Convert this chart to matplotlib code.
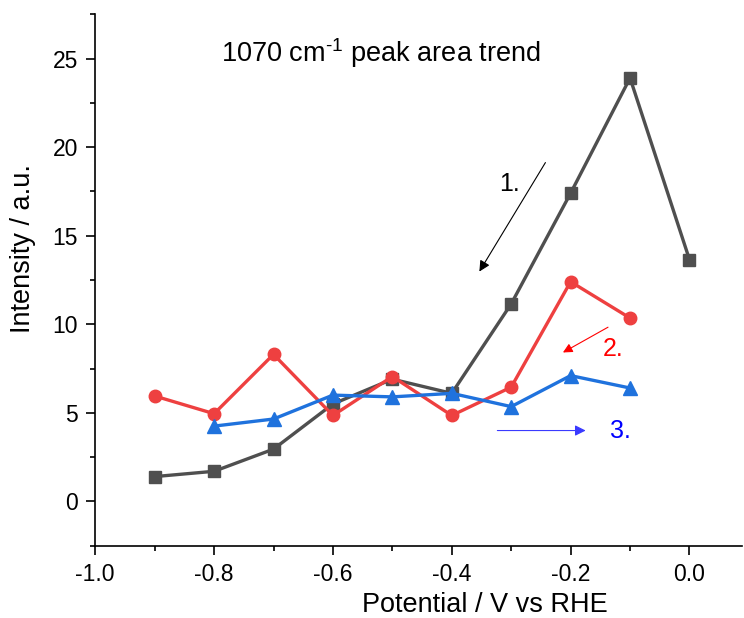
import numpy as np
import matplotlib
matplotlib.use('Agg')
from matplotlib import pyplot as plt
from matplotlib.ticker import MultipleLocator, FormatStrFormatter

plt.rcParams['font.family'] = ['Liberation Sans', 'DejaVu Sans']
plt.rcParams['mathtext.fontset'] = 'custom'
plt.rcParams['mathtext.rm'] = 'Liberation Sans'

# potential / V vs RHE
pot_1 = [-0.9, -0.8, -0.7, -0.6, -0.5, -0.4, -0.3, -0.2, -0.1, 0.0]
int_1 = [1.4, 1.7, 2.95, 5.5, 6.9, 6.1, 11.15, 17.4, 23.9, 13.65]

pot_2 = [-0.9, -0.8, -0.7, -0.6, -0.5, -0.4, -0.3, -0.2, -0.1]
int_2 = [5.95, 4.95, 8.3, 4.85, 7.05, 4.85, 6.45, 12.4, 10.35]

pot_3 = [-0.8, -0.7, -0.6, -0.5, -0.4, -0.3, -0.2, -0.1]
int_3 = [4.25, 4.65, 6.0, 5.9, 6.1, 5.35, 7.1, 6.4]

fig = plt.figure(figsize=(7.44, 6.18), dpi=100)
ax = fig.add_axes([0.128, 0.117, 0.869, 0.86])

ax.plot(pot_1, int_1, '-s', color='#4f4f4f', lw=2.4, ms=8.5)
ax.plot(pot_2, int_2, '-o', color='#ee4040', lw=2.4, ms=9)
ax.plot(pot_3, int_3, '-^', color='#1f72dd', lw=2.4, ms=9.5)

# arrows showing the sequence
ax.annotate('', xy=(-0.356, 12.84), xytext=(-0.240, 19.26),
            arrowprops=dict(arrowstyle='-|>', color='black', lw=0.8, mutation_scale=16))
ax.text(-0.303, 17.9, '1.', fontsize=18, ha='center', va='center', color='black')

ax.annotate('', xy=(-0.217, 8.33), xytext=(-0.133, 9.91),
            arrowprops=dict(arrowstyle='-|>', color='red', lw=0.8, mutation_scale=14))
ax.text(-0.128, 8.6, '2.', fontsize=18, ha='center', va='center', color='red')

ax.annotate('', xy=(-0.170, 4.0), xytext=(-0.328, 4.0),
            arrowprops=dict(arrowstyle='-|>', color='#3a3aff', lw=0.8, mutation_scale=16))
ax.text(-0.116, 4.0, '3.', fontsize=18, ha='center', va='center', color='blue')

ax.text(-0.519, 25.3, '1070 cm$^{\\text{-1}}$ peak area trend', fontsize=19.5,
        ha='center', va='center')

ax.set_xlim(-1.0, 0.088)
ax.set_ylim(-2.5, 27.5)
ax.xaxis.set_major_locator(MultipleLocator(0.2))
ax.xaxis.set_minor_locator(MultipleLocator(0.1))
ax.yaxis.set_major_locator(MultipleLocator(5))
ax.yaxis.set_minor_locator(MultipleLocator(2.5))
ax.xaxis.set_major_formatter(FormatStrFormatter('%.1f'))

for s in ['top', 'right']:
    ax.spines[s].set_visible(False)
for s in ['left', 'bottom']:
    ax.spines[s].set_linewidth(1.2)
ax.tick_params(which='major', length=6.5, width=1.2, labelsize=16.5, direction='out', pad=6)
ax.tick_params(which='minor', length=3.5, width=1.2, direction='out')

ax.set_xlabel('Potential / V vs RHE', fontsize=19.5)
ax.set_ylabel('Intensity / a.u.', fontsize=19.5)
ax.xaxis.set_label_coords(0.602, -0.111)
ax.xaxis.label.set_verticalalignment('center')
ax.yaxis.set_label_coords(-0.112, 0.56)
ax.yaxis.label.set_verticalalignment('center')

fig.savefig('out.png', dpi=100)
